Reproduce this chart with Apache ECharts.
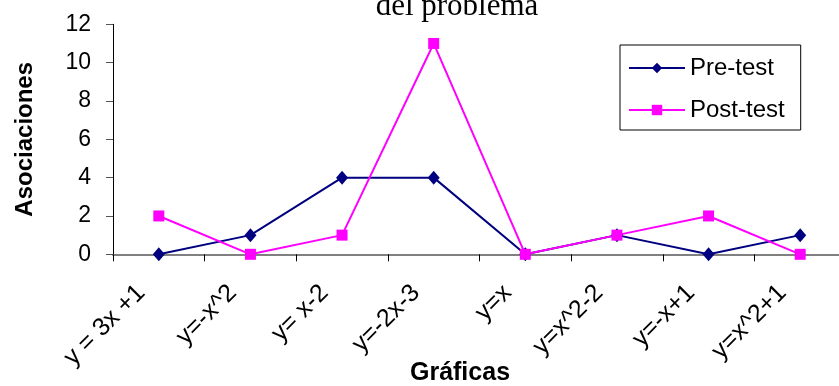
<!DOCTYPE html>
<html><head><meta charset="utf-8">
<script src="https://cdn.jsdelivr.net/npm/echarts@6/dist/echarts.min.js"></script>
<style>html,body{margin:0;padding:0;background:#fff}#c{width:839px;height:386px}</style>
</head><body><div id="c"></div>
<script>
const categories = ['y = 3x +1','y=-x^2','y= x-2','y=-2x-3','y=x','y=x^2-2','y=-x+1','y=x^2+1'];
const preTest = [0,1,4,4,0,1,0,1];
const postTest = [2,0,1,11,0,1,2,0];
const yTicks = {min:0,max:12,interval:2};

const chart = echarts.init(document.getElementById('c'));
chart.setOption({
  animation:false,
  title:{text:'del problema',left:452,textAlign:'center',top:-14,textStyle:{fontFamily:'Liberation Serif',fontWeight:'normal',fontSize:31,color:'#000'}},
  grid:{left:113,top:24.3,width:733,height:230,containLabel:false,outerBoundsMode:'none'},
  legend:{
    orient:'vertical',left:620,top:45,
    padding:[11,16,8,8],itemGap:18,itemWidth:56,itemHeight:13,
    borderColor:'#000',borderWidth:1,
    textStyle:{fontFamily:'Liberation Sans',fontSize:24,color:'#000'},
    data:['Pre-test','Post-test']
  },
  xAxis:{type:'category',data:categories,boundaryGap:true,
    axisLine:{lineStyle:{color:'#808080',width:2}},
    axisTick:{show:true,length:7,lineStyle:{color:'#000'}},
    axisLabel:{rotate:45,fontFamily:'Liberation Sans',fontSize:25,color:'#000',margin:17,padding:[0,25,0,0]},
    name:'Gráficas',nameLocation:'middle',nameGap:106,nameMoveOverlap:false,
    nameTextStyle:{fontFamily:'Liberation Sans',fontWeight:'bold',fontSize:25,color:'#000',padding:[0,39,0,0]}
  },
  yAxis:{type:'value',min:yTicks.min,max:yTicks.max,interval:yTicks.interval,
    axisLine:{show:true,lineStyle:{color:'#000'}},
    axisTick:{show:true,inside:false,length:7,lineStyle:{color:'#555'}},
    splitLine:{show:false},
    axisLabel:{fontFamily:'Liberation Sans',fontSize:23,color:'#000',margin:22},
    name:'Asociaciones',nameLocation:'middle',nameGap:76,nameRotate:90,nameMoveOverlap:false,
    nameTextStyle:{fontFamily:'Liberation Sans',fontWeight:'bold',fontSize:24,color:'#000'}
  },
  series:[
    {name:'Pre-test',type:'line',data:preTest,symbol:'diamond',symbolSize:[12,14],showAllSymbol:true,
      lineStyle:{color:'#000080',width:2},itemStyle:{color:'#000080'}},
    {name:'Post-test',type:'line',data:postTest,symbol:'rect',symbolSize:11,showAllSymbol:true,
      lineStyle:{color:'#FF00FF',width:2},itemStyle:{color:'#FF00FF'}}
  ]
});
</script></body></html>
